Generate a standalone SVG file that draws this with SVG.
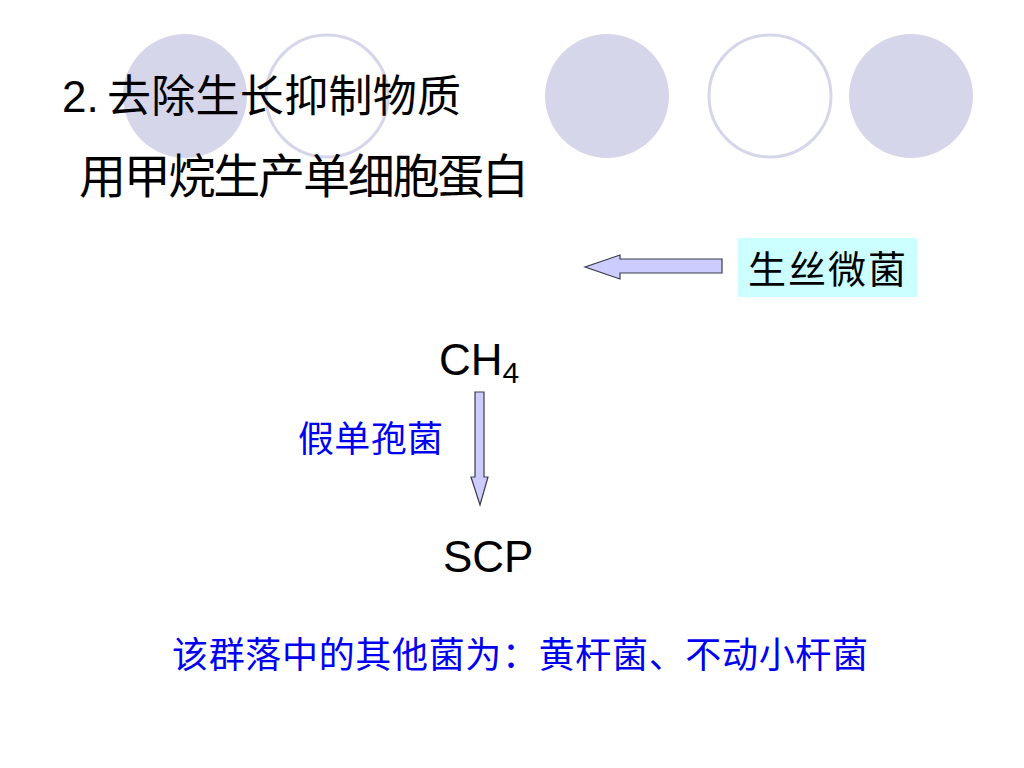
<svg xmlns="http://www.w3.org/2000/svg" width="1024" height="768" viewBox="0 0 1024 768">
<style>
.dot{fill:#D6D6EA;}
.ring{fill:none;stroke:#D6D6EA;stroke-width:3;}
.cn{font-family:"Liberation Sans","Noto Sans CJK SC",sans-serif;}
.black{fill:#000;}
.blue{fill:#0000F0;}
.arrow{fill:#CCCCFF;stroke:#3A3A4A;stroke-width:1.2;}
</style>
<rect width="1024" height="768" fill="#fff"/>
<g id="decor">
<circle class="dot" cx="185" cy="96" r="62"/>
<circle class="ring" cx="327" cy="96" r="61"/>
<circle class="dot" cx="607" cy="96" r="62"/>
<circle class="ring" cx="770" cy="96" r="61"/>
<circle class="dot" cx="911" cy="96" r="62"/>
</g>
<g id="title">
<text class="cn black" y="112" font-size="44"><tspan x="62">2.</tspan><tspan x="107" textLength="354" lengthAdjust="spacing">去除生长抑制物质</tspan></text>
</g>
<g id="subtitle">
<text class="cn black" x="79" y="193" font-size="47" textLength="450" lengthAdjust="spacing">用甲烷生产单细胞蛋白</text>
</g>
<g id="node-shengsiweijun">
<rect x="738" y="238" width="179" height="59" fill="#CCFFFF"/>
<text class="cn black" x="748" y="283" font-size="38" textLength="158" lengthAdjust="spacing">生丝微菌</text>
</g>
<g id="node-ch4">
<text class="cn black" x="439" y="375" font-size="44">CH<tspan font-size="30" dy="8">4</tspan></text>
</g>
<g id="label-jiadanbaojun">
<text class="cn blue" x="298" y="452" font-size="36" textLength="145" lengthAdjust="spacing">假单孢菌</text>
</g>
<g id="node-scp">
<text class="cn black" x="443" y="572" font-size="44">SCP</text>
</g>
<g id="connectors">
<polygon class="arrow" points="722,259 620,259 620,255 585,267 620,279 620,273 722,273"/>
<polygon class="arrow" points="475,392 484,392 484,477 488,477 480,505 471,477 475,477"/>
</g>
<g id="footer">
<text class="cn blue" x="172" y="668" font-size="36" textLength="696" lengthAdjust="spacing">该群落中的其他菌为：黄杆菌、不动小杆菌</text>
</g>
</svg>
